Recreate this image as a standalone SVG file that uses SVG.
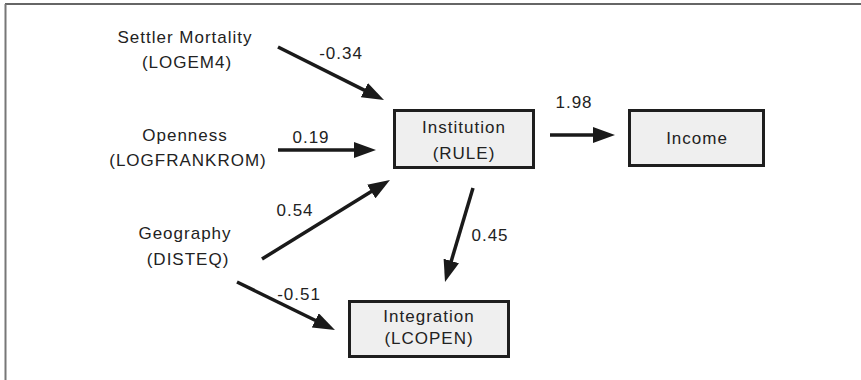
<svg xmlns="http://www.w3.org/2000/svg" width="861" height="380" viewBox="0 0 861 380">
<style>
text{font-family:"Liberation Sans",Arial,sans-serif;font-size:17px;letter-spacing:1px;fill:#222;text-anchor:middle}
.box{fill:#efefef;stroke:#1e1e1e;stroke-width:3}
.arr{stroke:#1a1a1a;stroke-width:3.5;fill:none;marker-end:url(#ah)}
</style>
<defs>
<marker id="ah" viewBox="0 -8 22 16" markerWidth="22" markerHeight="16" refX="1" refY="0" orient="auto" markerUnits="userSpaceOnUse">
<path d="M0,-8 L22,0 L0,8 z" fill="#1a1a1a"/>
</marker>
</defs>
<rect width="861" height="380" fill="#fff"/>
<line x1="5" y1="4" x2="861" y2="4" stroke="#333" stroke-width="1.5"/>
<line x1="5.5" y1="4" x2="5.5" y2="380" stroke="#777" stroke-width="2"/>
<g id="settler"><text x="185" y="43">Settler Mortality</text><text x="187" y="68">(LOGEM4)</text></g>
<g id="openness"><text x="185" y="141">Openness</text><text x="188" y="166">(LOGFRANKROM)</text></g>
<g id="geography"><text x="185" y="239">Geography</text><text x="188" y="265">(DISTEQ)</text></g>
<g id="institution"><rect class="box" x="394.5" y="110.5" width="139" height="57"/><text x="464" y="133">Institution</text><text x="464" y="159">(RULE)</text></g>
<g id="income"><rect class="box" x="629.5" y="110.5" width="134" height="55"/><text x="697" y="144">Income</text></g>
<g id="integration"><rect class="box" x="349.5" y="301.5" width="159" height="55"/><text x="429" y="322">Integration</text><text x="429" y="344">(LCOPEN)</text></g>
<g id="connectors">
<line class="arr" x1="278" y1="47" x2="365.2" y2="90.6"/>
<line class="arr" x1="278" y1="150" x2="355" y2="150"/>
<line class="arr" x1="262" y1="259" x2="372.1" y2="191"/>
<line class="arr" x1="237" y1="282" x2="316.1" y2="320.8"/>
<line class="arr" x1="473" y1="188" x2="451" y2="261.9"/>
<line class="arr" x1="550" y1="135" x2="594" y2="135"/>
<text x="341" y="59">-0.34</text>
<text x="311" y="143">0.19</text>
<text x="574" y="108">1.98</text>
<text x="295" y="216">0.54</text>
<text x="299" y="300">-0.51</text>
<text x="490" y="241">0.45</text>
</g>
</svg>
